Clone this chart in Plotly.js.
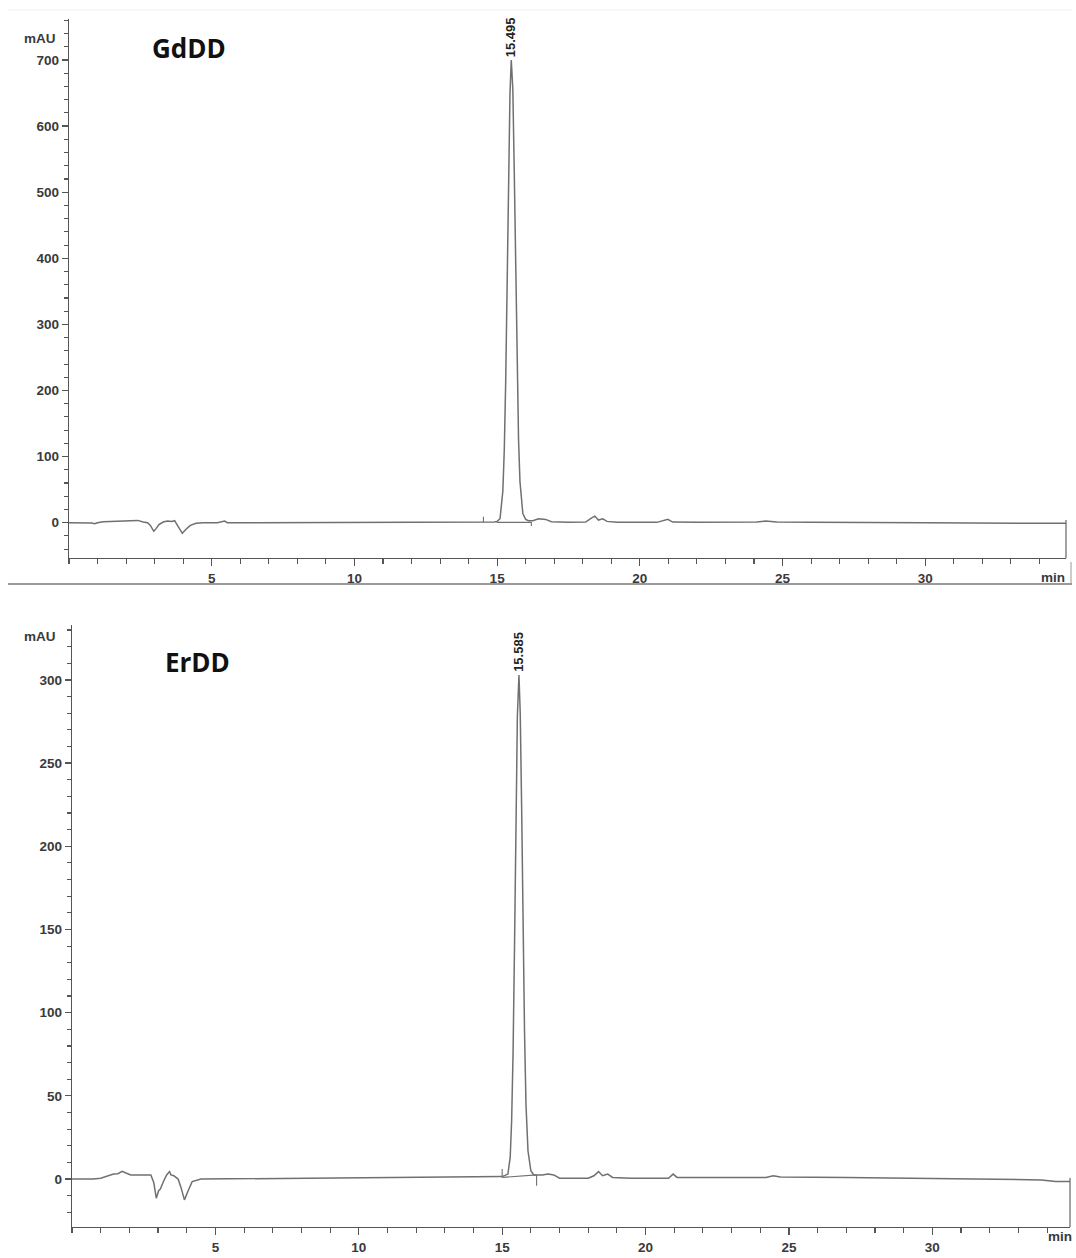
<!DOCTYPE html>
<html>
<head>
<meta charset="utf-8">
<script src="https://cdn.plot.ly/plotly-3.0.1.min.js"></script>
<style>
html,body{margin:0;padding:0;background:#fff;}
#chart{width:1076px;height:1258px;}
</style>
</head>
<body>
<div id="chart"></div>
<script>
// ---- GdDD chromatogram (top) ----
const gdTime = [0,0.5,0.8,0.9,1.0,1.2,1.5,1.8,2.1,2.4,2.6,2.75,2.85,2.97,3.05,3.15,3.3,3.45,3.6,3.7,3.8,3.97,4.1,4.25,4.45,4.7,5.2,5.45,5.55,7,9,11,13,14.4,14.9,15.0,15.1,15.2,15.25,15.3,15.35,15.4,15.45,15.495,15.55,15.6,15.65,15.7,15.75,15.8,15.9,16.0,16.1,16.25,16.45,16.7,16.9,17.5,18.1,18.3,18.42,18.55,18.7,18.85,19.2,20.6,20.85,20.98,21.15,22,24.1,24.4,24.8,26,30,33.5,34,34.93];
const gdSignal = [0,0,-0.5,-1.5,0,1.5,2,2.5,2,3.5,1,0,-4,-13,-9,-3,1,2.5,2,3,-4,-16,-10,-4,-1,0,0,2.5,0,0,0.5,0.5,0.5,0.5,1,2,6,48,110,214,360,520,650,700,655,530,375,230,125,62,14,5,3,3,6,5,1.5,0.5,1,7,10,4,6,2,0.5,0.5,3,5,1,0.5,1,2.5,1,0.5,0,0,-1,-1];
const gdBaseTime = [14.52,14.52,null,14.98,16.2,null,16.2,16.2];
const gdBaseSignal = [0.5,9,null,0.5,0.5,null,0.5,-5];
const gdPeakLabel = "15.495";
const gdPeakTime = 15.495;
const gdPeakHeight = 700;

// ---- ErDD chromatogram (bottom) ----
const erTime = [0,0.75,1.0,1.2,1.45,1.6,1.75,1.9,2.05,2.4,2.75,2.85,2.94,3.02,3.08,3.2,3.3,3.4,3.45,3.55,3.7,3.8,3.92,4.05,4.19,4.5,6,8,10,12,14,15.0,15.2,15.28,15.33,15.38,15.43,15.48,15.53,15.585,15.63,15.68,15.73,15.78,15.83,15.9,16.0,16.1,16.4,16.6,16.8,17.0,18.0,18.2,18.36,18.5,18.68,18.85,19.5,20.8,20.96,21.1,23,24.2,24.45,24.7,27,30,33,33.8,34.3,34.8];
const erSignal = [0,0,0.5,1.5,3,3.2,4.6,3.5,2.5,2.5,2.5,-2,-11.5,-7,-6,-1,2.5,4.5,2.5,2,0,-5,-12.5,-7,-1.5,0,0.2,0.5,0.7,1,1,1.5,3,13,35,76,139,214,278,303,280,222,150,88,45,17,5,2.5,2.5,3,2.5,0.5,0.5,2,4.5,2,3,1,0.5,0.5,3,1,1,1,2,1.2,1,0.5,0,-0.5,-1.5,-1.5];
const erBaseTime = [15.0,15.0,null,15.0,16.2,null,16.2,16.2];
const erBaseSignal = [1,6,null,1,2.5,null,2.5,-4];
const erPeakLabel = "15.585";
const erPeakTime = 15.585;
const erPeakHeight = 303;

const sampleNames = ["GdDD","ErDD"];
const yUnit = "mAU";
const xUnit = "min";
const xTickVals = [5,10,15,20,25,30];
const gdYTickVals = [0,100,200,300,400,500,600,700];
const erYTickVals = [0,50,100,150,200,250,300];

const lineColor = "#707070";
const tickFont = {family:"Liberation Sans, Arial, sans-serif", size:13.5, color:"#3a3a3a", weight:"bold"};

function axisX(dom, range, anchor){
  return {domain:[dom[0],dom[1]], range:range, anchor:anchor, showgrid:false, zeroline:false,
    showline:true, linecolor:"#555", linewidth:1.3, ticks:"outside", ticklen:7, tickwidth:1.2, tickcolor:"#555",
    tickmode:"array", tickvals:xTickVals, ticktext:xTickVals.map(String), tickfont:tickFont,
    minor:{tickmode:"linear", tick0:0, dtick:1, ticks:"outside", ticklen:5, tickcolor:"#555", tickwidth:1.1}};
}
function axisY(dom, range, anchor, vals, minor){
  return {domain:[dom[0],dom[1]], range:range, anchor:anchor, showgrid:false, zeroline:false,
    showline:true, linecolor:"#555", linewidth:1.3, ticks:"outside", ticklen:6, tickwidth:1.2, tickcolor:"#555",
    tickmode:"array", tickvals:vals, ticktext:vals.map(String), tickfont:tickFont,
    minor:{tickmode:"linear", tick0:0, dtick:minor, ticks:"outside", ticklen:4, tickcolor:"#555", tickwidth:1.1}};
}

const traces = [
  {x:gdTime, y:gdSignal, xaxis:"x", yaxis:"y", type:"scatter", mode:"lines", line:{color:lineColor,width:1.5}, hoverinfo:"skip"},
  {x:gdBaseTime, y:gdBaseSignal, xaxis:"x", yaxis:"y", type:"scatter", mode:"lines", line:{color:lineColor,width:1.1}, connectgaps:false, hoverinfo:"skip"},
  {x:erTime, y:erSignal, xaxis:"x2", yaxis:"y2", type:"scatter", mode:"lines", line:{color:lineColor,width:1.5}, hoverinfo:"skip"},
  {x:erBaseTime, y:erBaseSignal, xaxis:"x2", yaxis:"y2", type:"scatter", mode:"lines", line:{color:lineColor,width:1.1}, connectgaps:false, hoverinfo:"skip"}
];

const W = 1076, H = 1258;
const px = v => v / W;
const py = v => 1 - v / H;
const titleFont = {family:"Open Sans, sans-serif", size:26, color:"#111", weight:"bold"};
const labelFont = {family:"Liberation Sans, Arial, sans-serif", size:13, color:"#222", weight:"bold"};

const layout = {
  width:W, height:H, margin:{l:0,r:0,t:0,b:0}, showlegend:false,
  paper_bgcolor:"#fff", plot_bgcolor:"#fff",
  xaxis: axisX([px(69),px(1066)],[0,34.93],"y"),
  yaxis: axisY([py(558),py(19)],[-53.4,762],"x",gdYTickVals,20),
  xaxis2: axisX([px(72),px(1070)],[0,34.8],"y2"),
  yaxis2: axisY([py(1227),py(625)],[-28.8,333],"x2",erYTickVals,10),
  annotations:[
    {xref:"paper",yref:"paper",x:px(189),y:py(48),xanchor:"center",yanchor:"middle",text:sampleNames[0],showarrow:false,font:titleFont},
    {xref:"paper",yref:"paper",x:px(197),y:py(662),xanchor:"center",yanchor:"middle",text:sampleNames[1],showarrow:false,font:titleFont},
    {xref:"x",yref:"y",x:gdPeakTime,y:gdPeakHeight,text:gdPeakLabel,textangle:-90,showarrow:false,xanchor:"center",yanchor:"bottom",yshift:1,font:labelFont},
    {xref:"x2",yref:"y2",x:erPeakTime,y:erPeakHeight,text:erPeakLabel,textangle:-90,showarrow:false,xanchor:"center",yanchor:"bottom",yshift:1,font:labelFont},
    {xref:"paper",yref:"paper",x:px(58),y:py(29),text:yUnit,showarrow:false,xanchor:"right",font:tickFont},
    {xref:"paper",yref:"paper",x:px(58),y:py(636),text:yUnit,showarrow:false,xanchor:"right",font:tickFont},
    {xref:"paper",yref:"paper",x:px(1053),y:py(577),xanchor:"center",text:xUnit,showarrow:false,font:tickFont},
    {xref:"paper",yref:"paper",x:px(1060),y:py(1246),xanchor:"center",text:xUnit,showarrow:false,font:tickFont}
  ],
  shapes:[
    {type:"line",xref:"paper",yref:"paper",x0:px(8),x1:px(1072),y0:py(584),y1:py(584),line:{color:"#777",width:1.5}},
    {type:"line",xref:"paper",yref:"paper",x0:px(1066),x1:px(1066),y0:py(520),y1:py(558),line:{color:"#666",width:1.2}},
    {type:"line",xref:"paper",yref:"paper",x0:px(1071),x1:px(1071),y0:py(562),y1:py(584),line:{color:"#999",width:1}},
    {type:"line",xref:"paper",yref:"paper",x0:px(1070),x1:px(1070),y0:py(1178),y1:py(1227),line:{color:"#666",width:1.2}},
    {type:"line",xref:"paper",yref:"paper",x0:px(8),x1:px(1072),y0:py(10),y1:py(10),line:{color:"#eee",width:1}}
  ]
};

Plotly.newPlot("chart", traces, layout, {staticPlot:true, displayModeBar:false});
</script>
</body>
</html>
